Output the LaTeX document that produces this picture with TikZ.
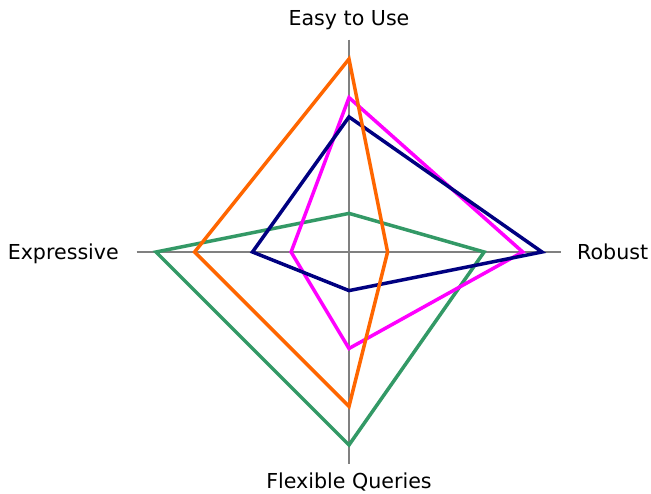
\documentclass[tikz,border=0pt]{standalone}
\usepackage{fontspec}
\setmainfont{DejaVu Sans}
\definecolor{cOrange}{RGB}{255,102,0}
\definecolor{cNavy}{RGB}{0,0,128}
\definecolor{cMagenta}{RGB}{255,0,255}
\definecolor{cGreen}{RGB}{51,153,102}
\begin{document}
\begin{tikzpicture}[x=1pt,y=1pt,
  axisline/.style={draw=gray,line width=1.3pt},
  series/.style={line width=3.5pt,line join=miter},
  axislabel/.style={inner sep=0pt,font=\fontsize{20.6}{24}\selectfont}]
\useasboundingbox (0,0) rectangle (651,494);
% radar chart, 19.3pt per unit, axes reach 11 units
\begin{scope}[shift={(349,242)},x=19.3pt,y=19.3pt]
  \coordinate (c) at (0,0);
  \coordinate (top) at (0,11);
  \coordinate (bot) at (0,-11);
  \coordinate (lft) at (-11,0);
  \coordinate (rgt) at (11,0);
  \draw[axisline] (top) -- (bot);
  \draw[axisline] (lft) -- (rgt);
  \draw[series,cGreen]   (0,2) -- (7,0) -- (0,-10) -- (-10,0) -- cycle;
  \draw[series,cMagenta] (0,8) -- (9,0) -- (0,-5) -- (-3,0) -- cycle;
  \draw[series,cNavy]    (0,7) -- (10,0) -- (0,-2) -- (-5,0) -- cycle;
  \draw[series,cOrange]  (0,10) -- (2,0) -- (0,-8) -- (-8,0) -- cycle;
\end{scope}
\node[axislabel,anchor=base] (easy) at (349,468) {Easy to Use};
\node[axislabel,anchor=base] (flex) at (349,5.5) {Flexible Queries};
\node[axislabel,anchor=base east] (expr) at (119,234) {Expressive};
\node[axislabel,anchor=base west] (rob) at (577,234) {Robust};
\end{tikzpicture}
\end{document}
